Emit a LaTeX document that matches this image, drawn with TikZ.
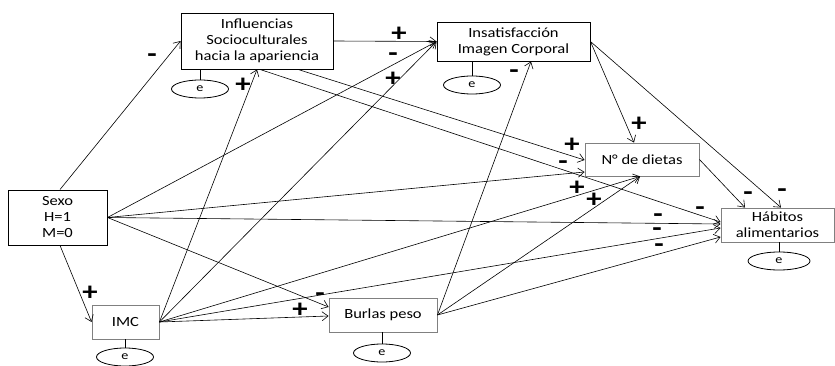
\documentclass[tikz,border=0pt]{standalone}
\usepackage{fontspec}
\setmainfont{Carlito}[FakeStretch=1.18]
\usetikzlibrary{arrows.meta,shapes.geometric}
\tikzset{
  box/.style={draw=black, line width=0.9pt, fill=white, inner sep=0pt, align=center,
    font=\fontsize{14}{16}\selectfont},
  graybox/.style={box, draw=black!50},
  err/.style={draw, ellipse, line width=0.8pt, minimum width=57pt, minimum height=18pt,
    inner sep=0pt, font=\fontsize{12}{12}\selectfont},
  lnk/.style={-{Straight Barb[length=6pt,width=9pt]}, line width=0.6pt},
  stub/.style={line width=0.8pt},
  sgn/.style={font=\fontsize{26}{26}\selectfont\bfseries, inner sep=0pt}
}
\begin{document}
\begin{tikzpicture}[x=1pt,y=-1pt]
\useasboundingbox (0,0) rectangle (835,366);
% boxes
\node[box, minimum width=152pt, minimum height=56pt] (inf) at (257,41) {Influencias\\Socioculturales\\hacia la apariencia};
\node[box, minimum width=153pt, minimum height=39pt] (ins) at (513.5,41.5) {Insatisfacción\\Imagen Corporal};
\node[graybox, minimum width=114pt, minimum height=33pt] (die) at (642,159.5) {N° de dietas};
\node[box, minimum width=99pt, minimum height=55pt] (sex) at (57.5,217.5) {Sexo\\H=1\\M=0};
\node[graybox, minimum width=67pt, minimum height=34pt] (imc) at (125.5,322) {IMC};
\node[graybox, minimum width=108pt, minimum height=34pt] (bur) at (383,315) {Burlas peso};
\node[graybox, minimum width=113pt, minimum height=34pt] (hab) at (777.5,225) {Hábitos\\alimentarios};
% error terms
\node[err] (e1) at (200,89) {e};
\node[err] (e2) at (472,85) {e};
\node[err] (e3) at (125,357) {e};
\node[err] (e4) at (382,353) {e};
\node[err, minimum width=62pt] (e5) at (779,261) {e};
\draw[stub] (e1.north) -- (e1.north |- inf.south);
\draw[stub] (e2.north) -- (e2.north |- ins.south);
\draw[stub] (e3.north) -- (e3.north |- imc.south);
\draw[stub] (e4.north) -- (e4.north |- bur.south);
\draw[stub] (e5.north) -- (e5.north |- hab.south);
% connectors
\draw[lnk] ([xshift=2.5pt]sex.north) -- (inf.west);
\draw[lnk] ([xshift=2.5pt]sex.south) -- (imc.west);
\draw[lnk] (sex.east) -- (ins.west);
\draw[lnk] (sex.east) -- ([yshift=-12.5pt]die.west);
\draw[lnk] (sex.east) -- ([yshift=1pt]hab.west);
\draw[lnk] (sex.east) -- ([yshift=8pt]bur.west);
\draw[lnk] (imc.east) -- (inf.south);
\draw[lnk] (imc.east) -- (ins.west);
\draw[lnk] (imc.east) -- ([xshift=-2pt]die.south);
\draw[lnk] (imc.east) -- ([yshift=-3pt]hab.west);
\draw[lnk] (imc.east) -- ([yshift=-1pt]bur.west);
\draw[lnk] (inf.east) -- (ins.west);
\draw[lnk] ([xshift=41pt]inf.south) -- ([yshift=-0.5pt]die.west);
\draw[lnk] ([xshift=3pt]inf.south) -- ([yshift=3pt]hab.west);
\draw[lnk] (ins.east) -- ([xshift=-8pt]die.north);
\draw[lnk] (ins.east) -- ([xshift=3.5pt]hab.north);
\draw[lnk] (die.east) -- ([xshift=-32.5pt]hab.north);
\draw[lnk] (bur.east) -- ([xshift=17.5pt]ins.south);
\draw[lnk] (bur.east) -- ([xshift=-2pt]die.south);
\draw[lnk] (bur.east) -- ([yshift=-12pt]hab.west);
% signs
\node[sgn] (s1) at (152,58) {-};
\node[sgn] (s2) at (90,293) {+};
\node[sgn] (s3) at (399,34) {+};
\node[sgn] (s4) at (393,57) {-};
\node[sgn] (s5) at (393,79) {+};
\node[sgn] (s6) at (243,85) {+};
\node[sgn] (s7) at (514,74) {-};
\node[sgn] (s8) at (639,124) {+};
\node[sgn] (s9) at (572,145) {+};
\node[sgn] (s10) at (563,165) {-};
\node[sgn] (s11) at (577,188) {+};
\node[sgn] (s12) at (594,200) {+};
\node[sgn] (s13) at (658,218) {-};
\node[sgn] (s14) at (657,232) {-};
\node[sgn] (s15) at (659,248) {-};
\node[sgn] (s16) at (700,211) {-};
\node[sgn] (s17) at (748,196) {-};
\node[sgn] (s18) at (782,193) {-};
\node[sgn] (s19) at (320,297) {-};
\node[sgn] (s20) at (300,310) {+};
\end{tikzpicture}
\end{document}
